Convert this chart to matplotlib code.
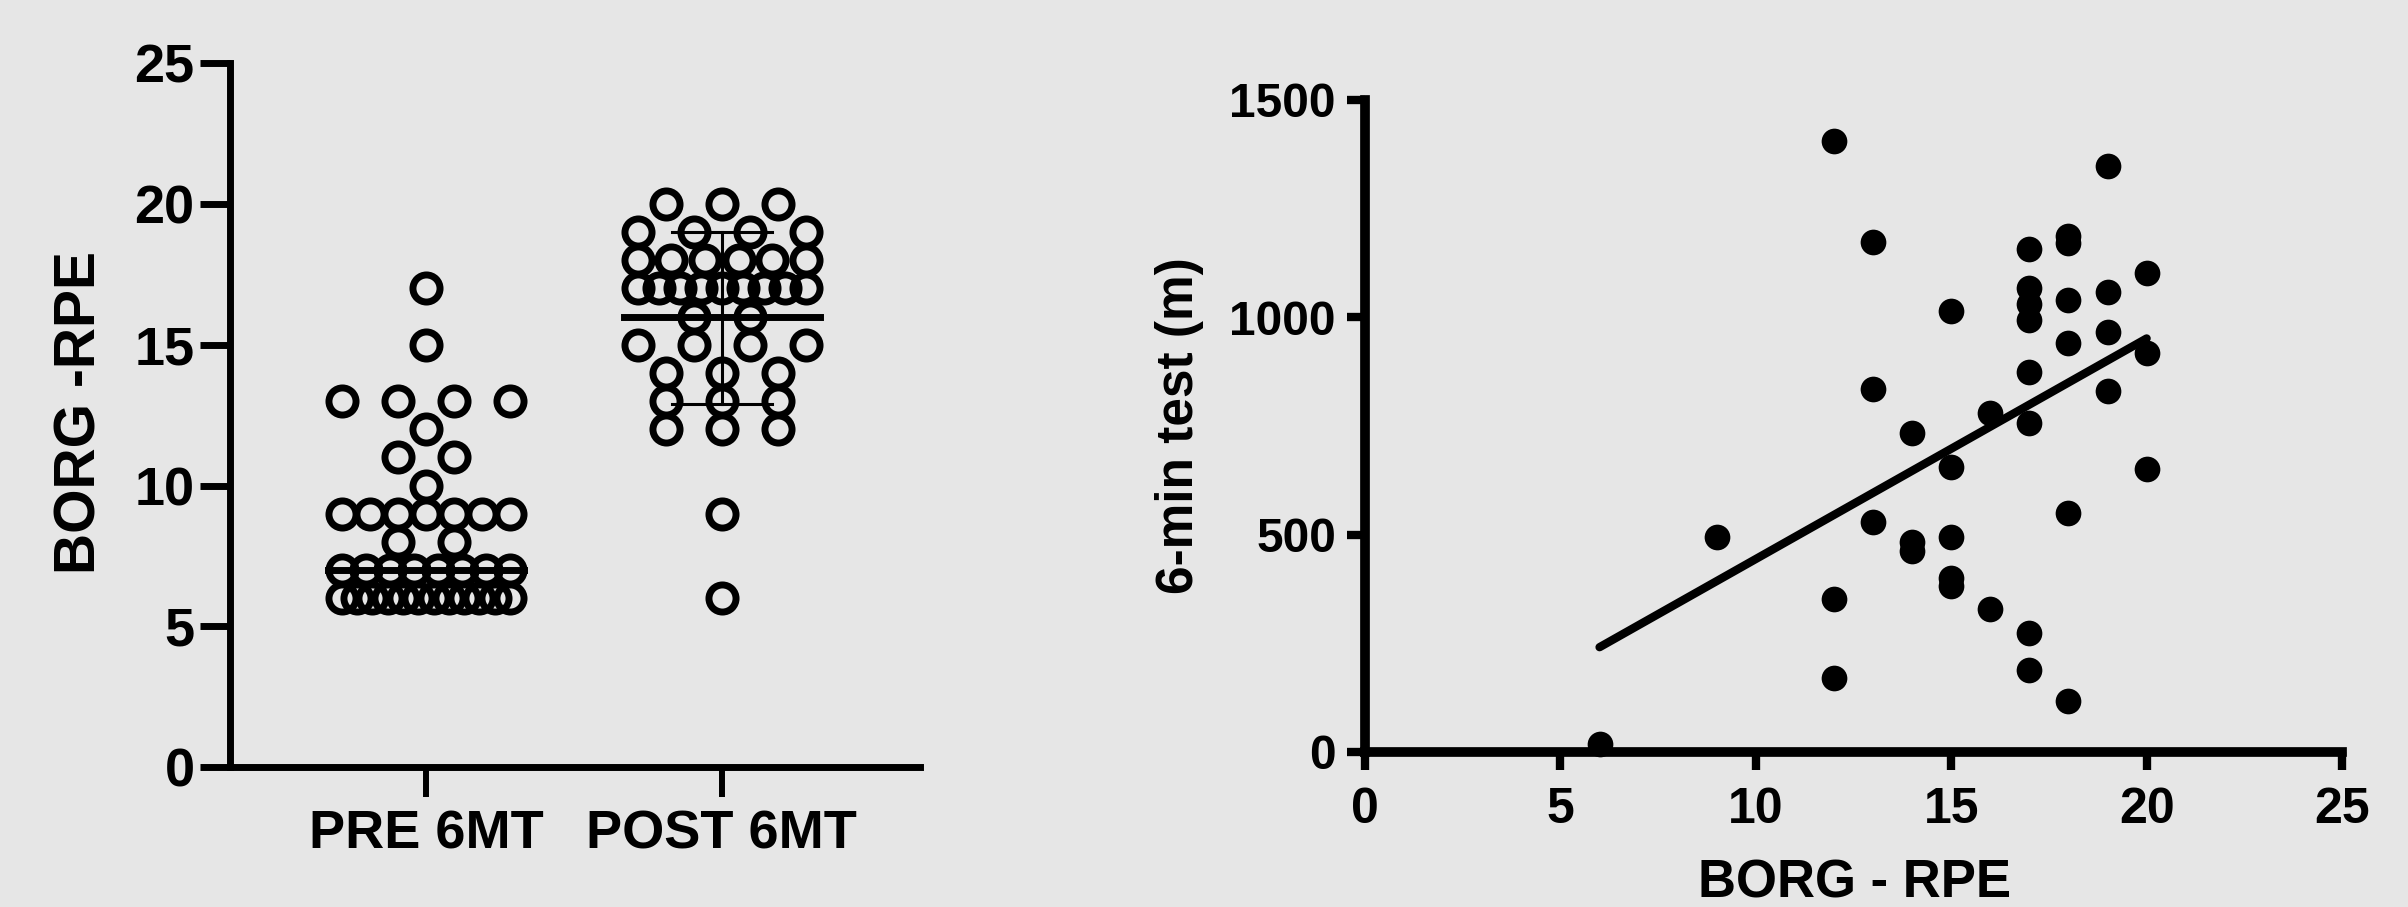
import numpy as np
import matplotlib
matplotlib.use("Agg")
import matplotlib.pyplot as plt

plt.rcParams['font.family'] = ['Liberation Sans', 'DejaVu Sans']
plt.rcParams['font.weight'] = 'bold'

# left panel: BORG-RPE before / after the 6-min test
groups = ["PRE 6MT", "POST 6MT"]
pre_borg = [17, 15, 13, 13, 13, 13, 12, 11, 11, 10,
            9, 9, 9, 9, 9, 9, 9, 8, 8,
            7, 7, 7, 7, 7, 7, 7, 7,
            6, 6, 6, 6, 6, 6, 6, 6, 6, 6, 6, 6]
post_borg = [20, 20, 20, 19, 19, 19, 19,
             18, 18, 18, 18, 18, 18,
             17, 17, 17, 17, 17, 17, 17, 17, 17,
             16, 16, 15, 15, 15, 15, 14, 14, 14,
             13, 13, 13, 12, 12, 12, 9, 6]
center_line = [7, 16]
post_err = [12.9, 19.0]

# right panel: BORG-RPE vs distance walked
rpe = [12, 19, 13, 17, 18, 18, 20, 19, 17, 17, 17, 15, 18, 19, 18, 20,
       17, 13, 19, 16, 17, 14, 15, 20, 18, 13, 9, 15, 14, 14, 15, 15,
       12, 16, 17, 17, 12, 18, 6]
dist = [1405, 1348, 1174, 1156, 1186, 1171, 1103, 1059, 1068, 1031, 994,
        1015, 1040, 966, 940, 917, 875, 835, 830, 779, 757, 733, 656, 651,
        550, 529, 495, 495, 483, 463, 401, 382, 352, 329, 274, 188, 170,
        117, 18]

BG = '#e6e6e6'


def column_positions(values, center, d=0.0946, half=0.284):
    xs, ys = [], []
    for v in sorted(set(values)):
        n = values.count(v)
        if n == 1:
            offs = np.zeros(1)
        else:
            step = min(2 * d, 2 * half / (n - 1))
            offs = (np.arange(n) - (n - 1) / 2) * step
        xs.extend(center + offs)
        ys.extend([v] * n)
    return xs, ys


fig = plt.figure(figsize=(24.08, 9.07), dpi=100, facecolor=BG)

# ---------- left ----------
ax1 = fig.add_axes([0.0955, 0.1543, 0.2865, 0.776])
ax1.set_facecolor(BG)
for i, vals in enumerate([pre_borg, post_borg]):
    xs, ys = column_positions(vals, i)
    ax1.plot(xs, ys, 'o', ms=19.5, mfc='none', mec='black', mew=5,
             clip_on=False, zorder=2)
for i, c in enumerate(center_line):
    ax1.plot([i - 0.33, i + 0.33], [c, c], color='black', lw=5, zorder=3)
ax1.plot([1, 1], post_err, color='black', lw=2.2, zorder=3)
for e in post_err:
    ax1.plot([1 - 0.17, 1 + 0.17], [e, e], color='black', lw=2.2, zorder=3)

ax1.set_xlim(-0.662, 1.669)
ax1.set_ylim(0, 25)
ax1.set_yticks([0, 5, 10, 15, 20, 25])
ax1.set_xticks([0, 1])
ax1.set_xticklabels(groups)
for s in ['top', 'right']:
    ax1.spines[s].set_visible(False)
for s in ['left', 'bottom']:
    ax1.spines[s].set_linewidth(5)
ax1.tick_params(axis='y', length=21.5, width=5, labelsize=39, pad=4)
ax1.tick_params(axis='x', length=21.5, width=4.3, labelsize=39, pad=9)
fig.text(81 / 2408, 1 - 412 / 907, "BORG -RPE", rotation=90, fontsize=41,
         fontweight='bold', ha='center', va='center')

# ---------- right ----------
ax2 = fig.add_axes([0.5669, 0.1709, 0.4057, 0.7189])
ax2.set_facecolor(BG)
ax2.plot(rpe, dist, 'o', ms=18.5, color='black', mew=0, clip_on=False,
         zorder=3)
k, b = np.polyfit(rpe, dist, 1)
fx = np.array([min(rpe), max(rpe)])
ax2.plot(fx, k * fx + b, color='black', lw=6, solid_capstyle='round',
         zorder=2)

ax2.set_xlim(0, 25)
ax2.set_ylim(0, 1500)
ax2.set_xticks([0, 5, 10, 15, 20, 25])
ax2.set_yticks([0, 500, 1000, 1500])
for s in ['top', 'right']:
    ax2.spines[s].set_visible(False)
for s in ['left', 'bottom']:
    ax2.spines[s].set_linewidth(7)
ax2.tick_params(axis='y', length=13, width=6, labelsize=34.5, pad=8)
ax2.tick_params(axis='x', length=13, width=6, labelsize=36, pad=12)
fig.text(1180 / 2408, 1 - 426 / 907, "6-min test (m)", rotation=90,
         fontsize=37, fontweight='bold', ha='center', va='center')
fig.text(1854 / 2408, 1 - 897 / 907, "BORG - RPE", fontsize=38,
         fontweight='bold', ha='center', va='baseline')

fig.savefig("out.png", dpi=100, facecolor=BG)
